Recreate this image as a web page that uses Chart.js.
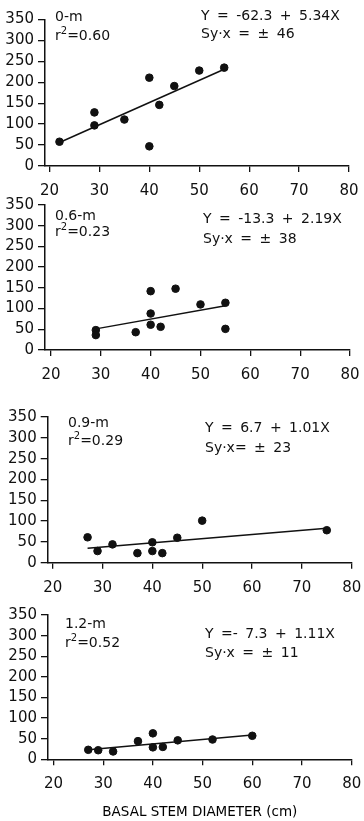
<!DOCTYPE html>
<html>
<head>
<meta charset="utf-8">
<script src="https://cdn.jsdelivr.net/npm/chart.js@4.4.0/dist/chart.umd.min.js"></script>
<style>
body { margin:0; background:#fff; width:364px; height:821px; position:relative; overflow:hidden;
       font-family:"DejaVu Sans", sans-serif; color:#111; }
.pane { position:absolute; left:0; }
.t { position:absolute; font-size:14px; line-height:14px; white-space:nowrap; word-spacing:3px; }
sup { font-size:10px; vertical-align:6px; line-height:0; }
</style>
</head>
<body>

<div class="pane" style="top:0px"><canvas id="p1" width="364" height="206"></canvas></div>
<div class="pane" style="top:185px"><canvas id="p2" width="364" height="205"></canvas></div>
<div class="pane" style="top:397px"><canvas id="p3" width="364" height="206"></canvas></div>
<div class="pane" style="top:595px"><canvas id="p4" width="364" height="226"></canvas></div>

<div class="t" style="left:55px;top:9px">0-m</div>
<div class="t" style="left:55px;top:28px">r<sup>2</sup>=0.60</div>
<div class="t" style="left:201px;top:8px">Y = -62.3 + 5.34X</div>
<div class="t" style="left:201px;top:26px">Sy·x = ± 46</div>

<div class="t" style="left:55px;top:208px">0.6-m</div>
<div class="t" style="left:55px;top:224px">r<sup>2</sup>=0.23</div>
<div class="t" style="left:203px;top:211px">Y = -13.3 + 2.19X</div>
<div class="t" style="left:203px;top:231px">Sy·x = ± 38</div>

<div class="t" style="left:68px;top:415px">0.9-m</div>
<div class="t" style="left:68px;top:433px">r<sup>2</sup>=0.29</div>
<div class="t" style="left:205px;top:420px">Y = 6.7 + 1.01X</div>
<div class="t" style="left:205px;top:440px">Sy·x= ± 23</div>

<div class="t" style="left:65px;top:616px">1.2-m</div>
<div class="t" style="left:65px;top:635px">r<sup>2</sup>=0.52</div>
<div class="t" style="left:205px;top:626px">Y =- 7.3 + 1.11X</div>
<div class="t" style="left:205px;top:645px">Sy·x = ± 11</div>

<script>
// x = basal stem diameter (cm), y = value at each height
var xMax = 80;
var yMax = 350;

// 0-m
var h00x = [22, 29, 29, 35, 40, 40, 42, 45, 50, 55];
var h00y = [58, 128, 97, 111, 211, 47, 146, 191, 228, 235];
var fit00x = [22, 55];
var fit00y = [56, 231];

// 0.6-m
var h06x = [29, 29, 37, 40, 40, 40, 42, 45, 50, 55, 55];
var h06y = [48, 36, 43, 142, 88, 61, 56, 148, 110, 114, 51];
var fit06x = [29, 55];
var fit06y = [51, 107];

// 0.9-m
var h09x = [27, 29, 32, 37, 40, 40, 42, 45, 50, 75];
var h09y = [61, 28, 44, 23, 49, 28, 23, 60, 101, 78];
var fit09x = [27, 75];
var fit09y = [35, 83];

// 1.2-m
var h12x = [27, 29, 32, 37, 40, 40, 42, 45, 52, 60];
var h12y = [23, 22, 19, 44, 63, 29, 30, 46, 48, 57];
var fit12x = [27, 60];
var fit12y = [23, 59];

var ink = '#111';
var tickFont = { family: 'DejaVu Sans', size: 15 };

function pairs(xs, ys) {
    return xs.map(function (x, i) { return { x: x, y: ys[i] }; });
}

function makePanel(id, px, py, fx, fy, box) {
    var ctx = document.getElementById(id).getContext('2d');
    return new Chart(ctx, {
        type: 'scatter',
        data: {
            datasets: [{
                data: pairs(px, py),
                backgroundColor: ink,
                borderColor: ink,
                pointRadius: 3.8,
                pointHoverRadius: 3.8
            }, {
                data: pairs(fx, fy),
                showLine: true,
                borderColor: ink,
                borderWidth: 1.5,
                pointRadius: 0,
                fill: false
            }]
        },
        options: {
            responsive: false,
            animation: false,
            events: [],
            layout: { padding: { top: box.top, right: 364 - box.right, left: 0, bottom: 0 } },
            plugins: { legend: { display: false }, tooltip: { enabled: false } },
            scales: {
                x: {
                    type: 'linear',
                    min: box.xmin,
                    max: xMax,
                    ticks: { stepSize: 10, includeBounds: false, autoSkip: false, font: tickFont, color: ink, padding: 10, maxRotation: 0 },
                    grid: { drawOnChartArea: false, tickLength: 6, color: ink, lineWidth: 1.3 },
                    border: { color: ink, width: 1.5 },
                    title: {
                        display: !!box.title,
                        text: box.title || '',
                        color: '#000',
                        font: { family: 'DejaVu Sans', size: 13.5 },
                        padding: { top: 0, bottom: 0 }
                    },
                    afterFit: function (s) {
                        s.height = box.xh;
                        s.paddingLeft = 0;
                        s.paddingRight = 0;
                    }
                },
                y: {
                    min: 0,
                    max: yMax,
                    ticks: { stepSize: 50, autoSkip: false, font: tickFont, color: ink, padding: 4 },
                    grid: { drawOnChartArea: false, tickLength: 7, color: ink, lineWidth: 1.3 },
                    border: { color: ink, width: 1.5 },
                    afterFit: function (s) { s.width = box.left; }
                }
            }
        }
    });
}

makePanel('p1', h00x, h00y, fit00x, fit00y, { top: 19.5, left: 45, right: 349, xmin: 19.1, xh: 40 });
makePanel('p2', h06x, h06y, fit06x, fit06y, { top: 20, left: 45, right: 350, xmin: 18.8, xh: 40 });
makePanel('p3', h09x, h09y, fit09x, fit09y, { top: 20, left: 47.7, right: 351.7, xmin: 19, xh: 40.3 });
makePanel('p4', h12x, h12y, fit12x, fit12y, { top: 20, left: 48, right: 351.7, xmin: 18.9, xh: 61.7,
    title: 'BASAL STEM DIAMETER (cm)' });
</script>
</body>
</html>
